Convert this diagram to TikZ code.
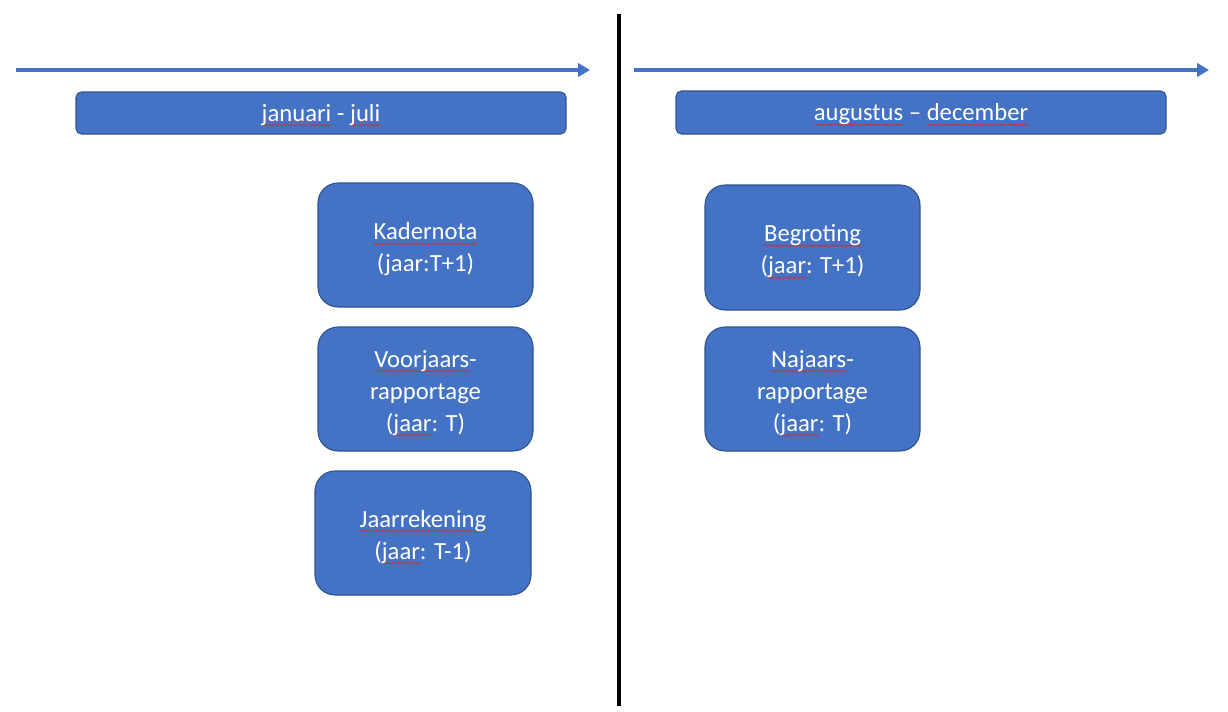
\documentclass[tikz,border=0pt]{standalone}
\usepackage{fontspec}
\setmainfont{Carlito}
\usetikzlibrary{arrows.meta,decorations.pathmorphing}
\definecolor{acc}{HTML}{4472C4}
\definecolor{accdark}{HTML}{2F528F}
\definecolor{wavered}{HTML}{D0312D}
\newlength\wavewd
\newcommand\redwave[1]{\settowidth\wavewd{#1}\rlap{\tikz[baseline=0pt,x=1pt,y=1pt,sharp corners]{\draw[wavered, line width=0.5pt, sharp corners, decorate, decoration={snake, amplitude=0.55pt, segment length=2.3pt}] (0,-3.2) -- (\wavewd,-3.2);}}#1}
\newcommand\tstrut{\rule{0pt}{19pt}}
\tikzset{
  box/.style={draw=accdark, line width=0.8pt, fill=acc, rounded corners=15pt, text=white,
    align=center, font=\fontsize{18.5}{24}\selectfont, inner sep=0pt},
  header/.style={draw=accdark, line width=0.8pt, fill=acc, rounded corners=4pt, text=white,
    align=center, font=\fontsize{18.5}{24}\selectfont, inner sep=0pt},
  timearrow/.style={draw=acc, line width=2.8pt, -{Triangle[length=9pt,width=10pt]}},
}
\begin{document}
\begin{tikzpicture}[x=0.75pt,y=-0.75pt]
\useasboundingbox (0,0) rectangle (1228,711);
% divider
\coordinate (dtop) at (619,14);
\coordinate (dbot) at (619,706);
\draw[line width=2.4pt, black] (dtop) -- (dbot);
% time arrows
\coordinate (la) at (16,70);
\coordinate (lb) at (590,70);
\coordinate (ra) at (634,70);
\coordinate (rb) at (1209,70);
\draw[timearrow] (la) -- (lb);
\draw[timearrow] (ra) -- (rb);
% headers
\node[header, minimum width=490*0.75pt, minimum height=42*0.75pt] (h1) at (321,113) {\rule{0pt}{16pt}\redwave{januari} - \redwave{juli}};
\node[header, minimum width=490*0.75pt, minimum height=43*0.75pt] (h2) at (921,112.5) {\rule{0pt}{16pt}\redwave{augustus} -- \redwave{december}};
% boxes
\node[box, minimum width=215*0.75pt, minimum height=124*0.75pt] (k) at (425.5,245) {\tstrut\redwave{Kadernota}\\(jaar:T+1)};
\node[box, minimum width=215*0.75pt, minimum height=124*0.75pt] (v) at (425.5,389) {\tstrut\redwave{Voorjaars}-\\rapportage\\(\redwave{jaar}: T)};
\node[box, minimum width=216*0.75pt, minimum height=124*0.75pt] (j) at (423,533) {\tstrut\redwave{Jaarrekening}\\(\redwave{jaar}: T-1)};
\node[box, minimum width=215*0.75pt, minimum height=125*0.75pt] (b) at (812.5,247.5) {\tstrut\redwave{Begroting}\\(\redwave{jaar}: T+1)};
\node[box, minimum width=215*0.75pt, minimum height=124*0.75pt] (n) at (812.5,389) {\tstrut\redwave{Najaars}-\\rapportage\\(\redwave{jaar}: T)};
\end{tikzpicture}
\end{document}
